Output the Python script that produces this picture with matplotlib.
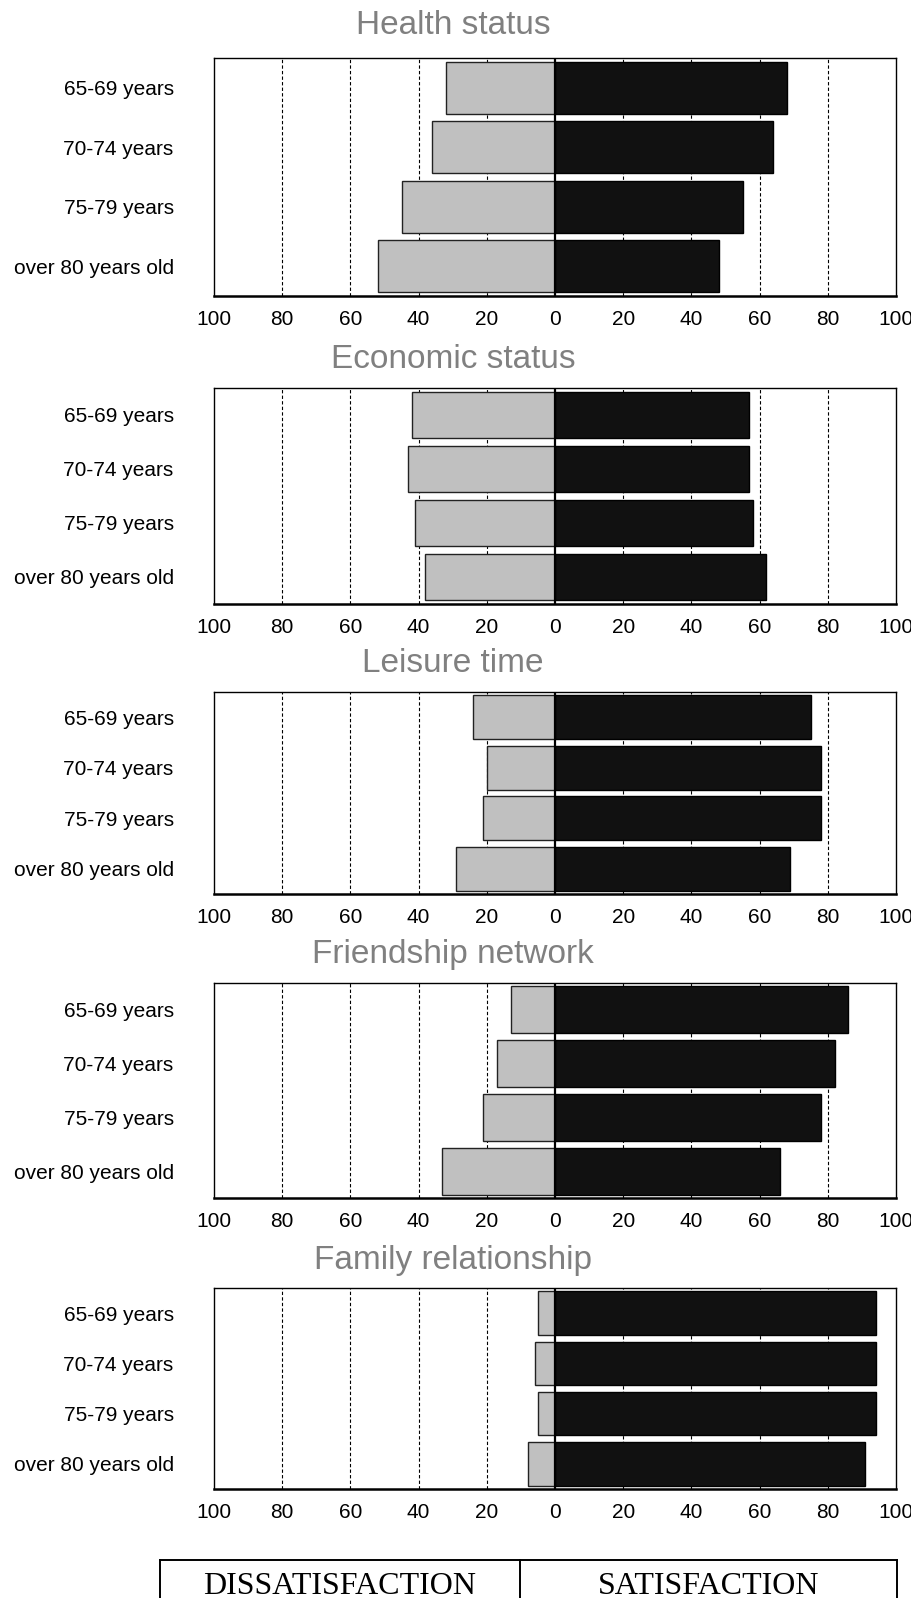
import matplotlib
matplotlib.use("Agg")
import matplotlib.pyplot as plt
from matplotlib.lines import Line2D
import numpy as np

plt.rcParams['font.family'] = ['Liberation Sans', 'DejaVu Sans']

# data (percent)
age_groups = ['65-69 years', '70-74 years', '75-79 years', 'over 80 years old']
panel_titles = ['Health status', 'Economic status', 'Leisure time',
                'Friendship network', 'Family relationship']

health_dis = [32, 36, 45, 52]
health_sat = [68, 64, 55, 48]
economic_dis = [42, 43, 41, 38]
economic_sat = [57, 57, 58, 62]
leisure_dis = [24, 20, 21, 29]
leisure_sat = [75, 78, 78, 69]
friend_dis = [13, 17, 21, 33]
friend_sat = [86, 82, 78, 66]
family_dis = [5, 6, 5, 8]
family_sat = [94, 94, 94, 91]

dis_values = [health_dis, economic_dis, leisure_dis, friend_dis, family_dis]
sat_values = [health_sat, economic_sat, leisure_sat, friend_sat, family_sat]

xticks = [-100, -80, -60, -40, -20, 0, 20, 40, 60, 80, 100]
xtick_labels = [str(abs(t)) for t in xticks]

W, H = 911, 1598
fig = plt.figure(figsize=(W / 100, H / 100), dpi=100)

# pixel layout of the five panels
left_px, right_px = 214, 896
panel_px = [(58, 296), (388, 604), (692, 894), (983, 1198), (1288, 1489)]
title_px = [26, 360, 664, 954, 1261]

ypos = np.arange(len(age_groups))[::-1]

for i in range(5):
    top, bot = panel_px[i]
    ax = fig.add_axes([left_px / W, 1 - bot / H, (right_px - left_px) / W, (bot - top) / H])

    for g in [-80, -60, -40, -20, 20, 40, 60, 80]:
        ax.axvline(g, color='black', lw=0.8, ls=(0, (3, 2)), zorder=0.5)

    dis = -np.array(dis_values[i])
    sat = np.array(sat_values[i])
    ax.barh(ypos, dis, height=0.87, color='#c0c0c0', edgecolor='#222222', lw=1.0, zorder=2)
    ax.barh(ypos, sat, height=0.87, color='#111111', edgecolor='black', lw=1.0, zorder=2)
    ax.axvline(0, color='black', lw=1.6, zorder=3)

    ax.set_xlim(-100, 100)
    ax.set_ylim(-0.5, 3.5)
    ax.set_xticks(xticks)
    ax.set_xticklabels(xtick_labels, fontsize=15)
    ax.set_yticks(ypos)
    ax.set_yticklabels(age_groups, fontsize=15, ha='right')
    ax.tick_params(axis='x', length=0, pad=10)
    ax.tick_params(axis='y', length=0, pad=29)
    for s in ['left', 'right', 'top']:
        ax.spines[s].set_linewidth(1.0)
    ax.spines['bottom'].set_linewidth(1.8)

    fig.text(453 / W, 1 - title_px[i] / H, panel_titles[i], fontsize=24,
             color='#808080', ha='center', va='center')

# legend box at the bottom
box_top = 1 - 1560 / H
lx0, lmid, lx1 = 160 / W, 520 / W, 897 / W
lw_box = 1.4
fig.add_artist(Line2D([lx0, lx1], [box_top, box_top], color='black', lw=lw_box))
for xx in [lx0, lmid, lx1]:
    fig.add_artist(Line2D([xx, xx], [box_top, -0.01], color='black', lw=lw_box))
fig.text((lx0 + lmid) / 2, 1 - 1586 / H, 'DISSATISFACTION', fontsize=23,
         family='Liberation Serif', ha='center', va='center')
fig.text((lmid + lx1) / 2, 1 - 1586 / H, 'SATISFACTION', fontsize=23,
         family='Liberation Serif', ha='center', va='center')

fig.savefig('out.png', dpi=100)
